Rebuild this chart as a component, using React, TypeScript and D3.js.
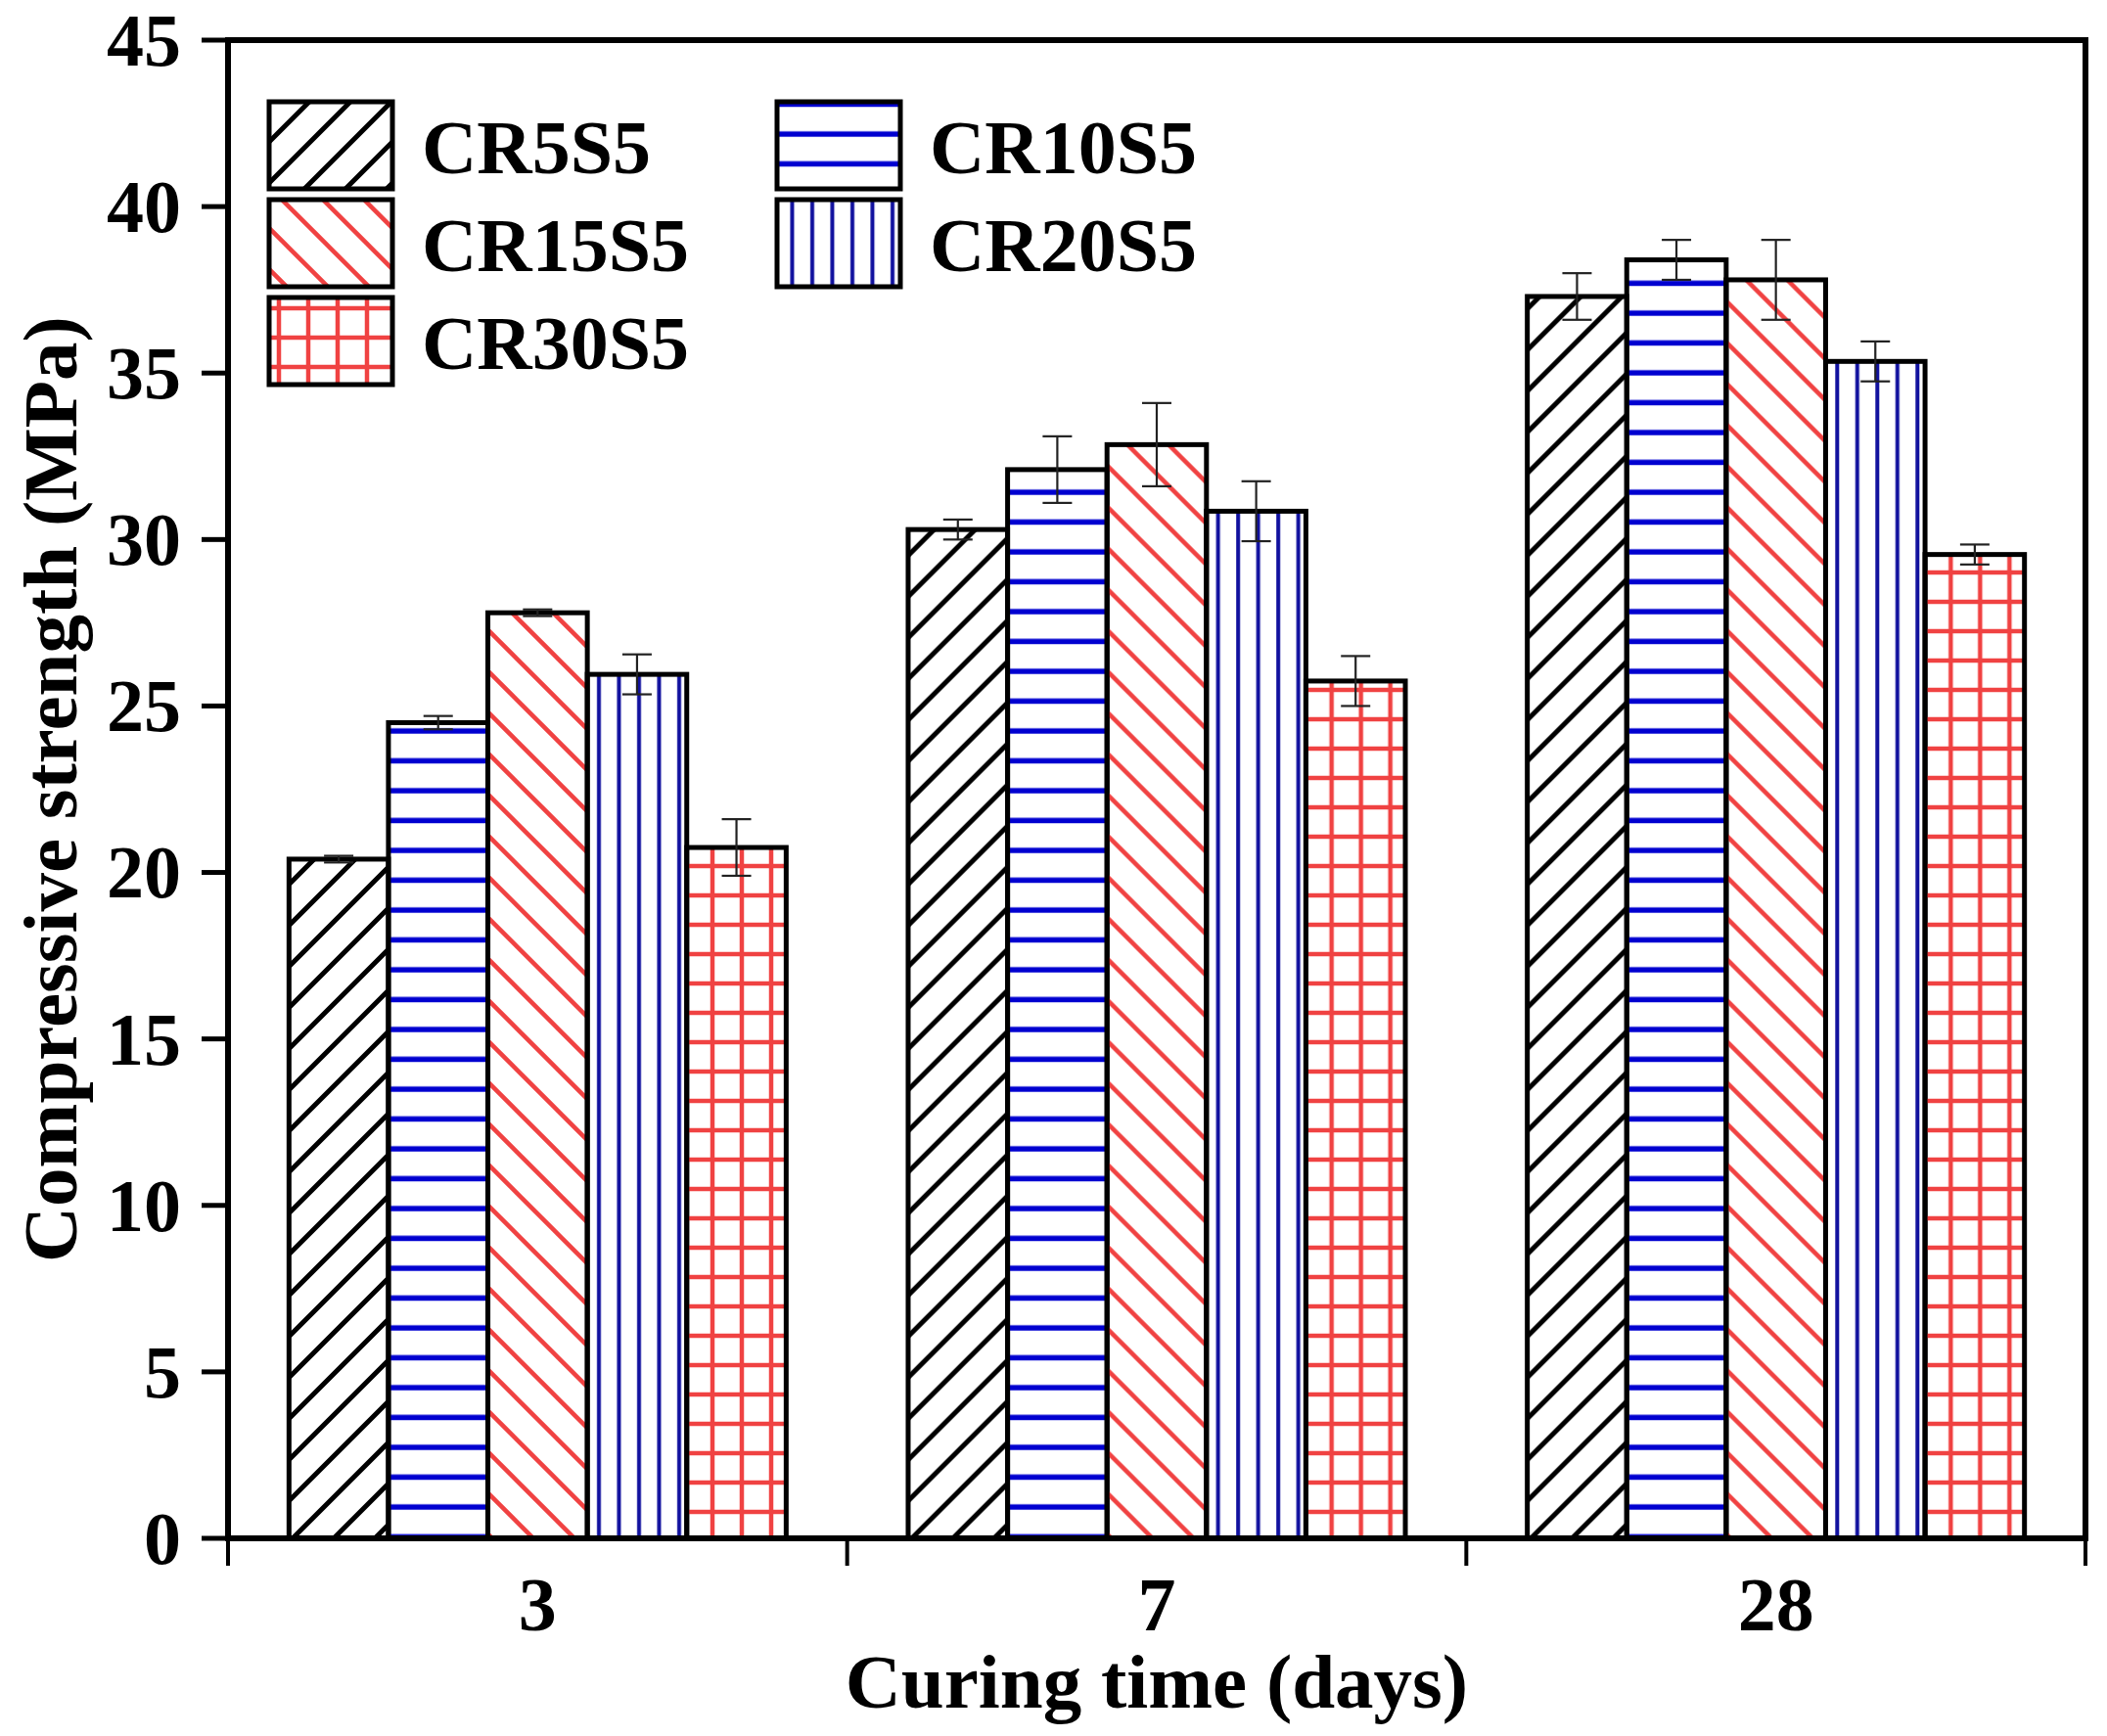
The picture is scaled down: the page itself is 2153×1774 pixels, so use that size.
import React from "react";
import * as d3 from "d3";

const categories = ["3", "7", "28"];
const series = ["CR5S5", "CR10S5", "CR15S5", "CR20S5", "CR30S5"];
const cr5s5 = [20.4, 30.3, 37.3];
const cr10s5 = [24.5, 32.1, 38.4];
const cr15s5 = [27.8, 32.85, 37.8];
const cr20s5 = [25.95, 30.85, 35.35];
const cr30s5 = [20.75, 25.75, 29.55];
const err5 = [0.1, 0.3, 0.7];
const err10 = [0.2, 1.0, 0.6];
const err15 = [0.1, 1.25, 1.2];
const err20 = [0.6, 0.9, 0.6];
const err30 = [0.85, 0.75, 0.3];
const yTicks = [0, 5, 10, 15, 20, 25, 30, 35, 40, 45];

const values = [cr5s5, cr10s5, cr15s5, cr20s5, cr30s5];
const errors = [err5, err10, err15, err20, err30];

const W = 2153;
const H = 1774;
const left = 233;
const right = 2131;
const top = 41;
const bottom = 1572;

const RED = "#f04242";
const BLUE = "#0000d0";
const BLUE2 = "#10109e";
const FONT = "'Liberation Serif', 'Times New Roman', serif";

export default function App() {
  const x0 = d3.scaleBand<string>().domain(categories).range([left, right]).paddingInner(0).paddingOuter(0);
  const inner = x0.bandwidth() * 0.803;
  const x1 = d3
    .scaleBand<string>()
    .domain(series)
    .range([(x0.bandwidth() - inner) / 2, (x0.bandwidth() + inner) / 2]);
  const y = d3.scaleLinear().domain([0, 45]).range([bottom, top]);

  const patIds = ["pDiagR", "pHoriz", "pDiagL", "pVert", "pGrid"];
  const boundaries = [left, ...categories.map((c) => (x0(c) as number) + x0.bandwidth())];

  const legendPos = [
    { x: 275, y: 104, tx: 431 },
    { x: 794, y: 104, tx: 950 },
    { x: 275, y: 204, tx: 431 },
    { x: 794, y: 204, tx: 950 },
    { x: 275, y: 304, tx: 431 },
  ];

  return (
    <svg
      width={W}
      height={H}
      viewBox={`0 0 ${W} ${H}`}
      style={{ position: "absolute", left: 0, top: 0, background: "#fff" }}
    >
      <defs>
        <pattern id="pDiagR" patternUnits="userSpaceOnUse" width={42} height={42}>
          <path d="M-10.5,10.5 L10.5,-10.5 M0,42 L42,0 M31.5,52.5 L52.5,31.5" stroke="#000" strokeWidth={5} />
        </pattern>
        <pattern id="pDiagL" patternUnits="userSpaceOnUse" width={42} height={42}>
          <path d="M-10.5,31.5 L10.5,52.5 M0,0 L42,42 M31.5,-10.5 L52.5,10.5" stroke={RED} strokeWidth={4.5} />
        </pattern>
        <pattern id="pHoriz" patternUnits="userSpaceOnUse" width={20} height={30.5}>
          <line x1={0} x2={20} y1={15} y2={15} stroke={BLUE} strokeWidth={5.5} />
        </pattern>
        <pattern id="pVert" patternUnits="userSpaceOnUse" width={20.5} height={20}>
          <line x1={10} x2={10} y1={0} y2={20} stroke={BLUE2} strokeWidth={4} />
        </pattern>
        <pattern id="pGrid" patternUnits="userSpaceOnUse" width={30} height={30}>
          <line x1={15} x2={15} y1={0} y2={30} stroke={RED} strokeWidth={4.5} />
          <line x1={0} x2={30} y1={15} y2={15} stroke={RED} strokeWidth={4.5} />
        </pattern>
      </defs>

      {/* bars */}
      {categories.map((c, ci) => (
        <g key={c} transform={`translate(${x0(c)},0)`}>
          {series.map((s, si) => {
            const v = values[si][ci];
            const bx = x1(s) as number;
            const bw = x1.bandwidth();
            return (
              <rect
                key={s}
                x={bx}
                y={y(v)}
                width={bw}
                height={bottom - y(v)}
                fill={`url(#${patIds[si]})`}
                stroke="#000"
                strokeWidth={5}
              />
            );
          })}
          {series.map((s, si) => {
            const v = values[si][ci];
            const e = errors[si][ci];
            const cx = (x1(s) as number) + x1.bandwidth() / 2;
            const cap = 15;
            return (
              <g key={s + "e"} stroke="#222" strokeWidth={2.2}>
                <line x1={cx} x2={cx} y1={y(v + e)} y2={y(v - e)} />
                <line x1={cx - cap} x2={cx + cap} y1={y(v + e)} y2={y(v + e)} />
                <line x1={cx - cap} x2={cx + cap} y1={y(v - e)} y2={y(v - e)} />
              </g>
            );
          })}
        </g>
      ))}

      {/* frame */}
      <rect x={left} y={top} width={right - left} height={bottom - top} fill="none" stroke="#000" strokeWidth={6} />

      {/* y ticks */}
      {yTicks.map((t) => (
        <g key={t}>
          <line x1={left - 27} x2={left} y1={y(t)} y2={y(t)} stroke="#000" strokeWidth={5} />
          <text
            x={left - 48}
            y={y(t)}
            dy="0.34em"
            textAnchor="end"
            fontFamily={FONT}
            fontWeight="bold"
            fontSize={76}
          >
            {t}
          </text>
        </g>
      ))}

      {/* x ticks at group boundaries */}
      {boundaries.map((b, i) => (
        <line key={i} x1={b} x2={b} y1={bottom} y2={bottom + 28} stroke="#000" strokeWidth={4} />
      ))}
      {categories.map((c) => (
        <text
          key={c}
          x={(x0(c) as number) + x0.bandwidth() / 2}
          y={1666}
          textAnchor="middle"
          fontFamily={FONT}
          fontWeight="bold"
          fontSize={78}
        >
          {c}
        </text>
      ))}

      {/* axis titles */}
      <text x={(left + right) / 2} y={1745} textAnchor="middle" fontFamily={FONT} fontWeight="bold" fontSize={79}>
        Curing time (days)
      </text>
      <text
        transform={`translate(78, ${(top + bottom) / 2}) rotate(-90)`}
        textAnchor="middle"
        fontFamily={FONT}
        fontWeight="bold"
        fontSize={79}
      >
        Compressive strength (MPa)
      </text>

      {/* legend */}
      {series.map((s, si) => {
        const p = legendPos[si];
        return (
          <g key={s}>
            <rect x={p.x} y={p.y} width={126} height={89} fill={`url(#${patIds[si]})`} stroke="#000" strokeWidth={5} />
            <text x={p.tx} y={p.y + 73} fontFamily={FONT} fontWeight="bold" fontSize={78}>
              {s}
            </text>
          </g>
        );
      })}
    </svg>
  );
}
